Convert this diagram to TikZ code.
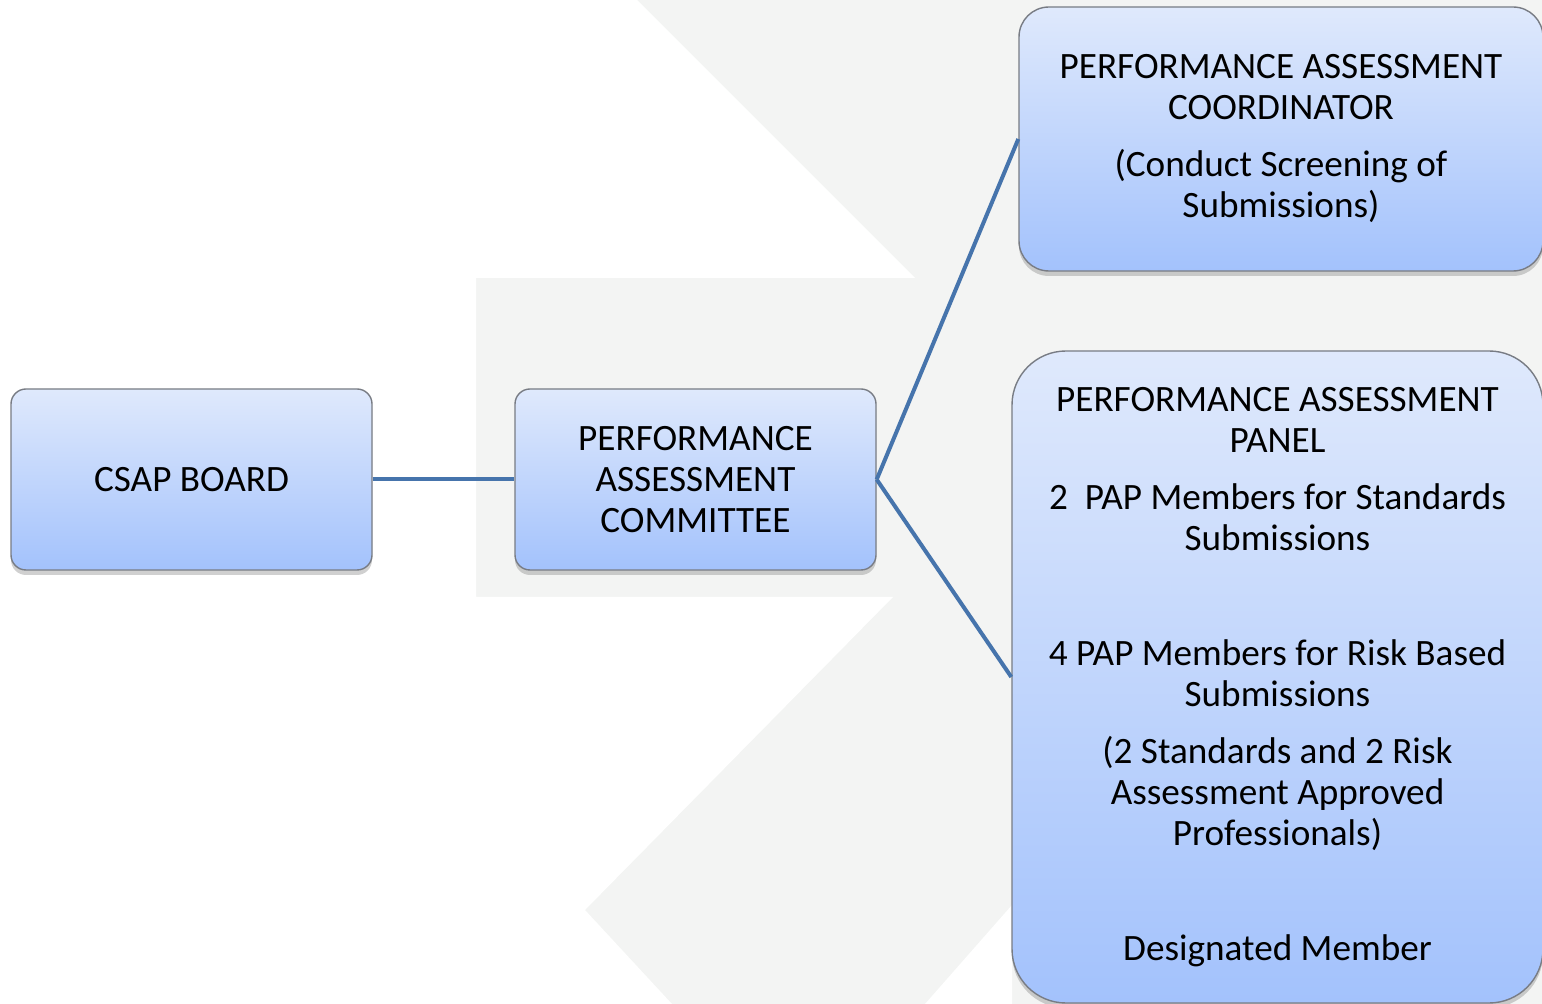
\documentclass[tikz,border=0pt]{standalone}
\usepackage{fontspec}
\setmainfont{Carlito}
\usetikzlibrary{positioning, shadows}

\definecolor{bggray}{RGB}{243,244,243}
\definecolor{boxtop}{RGB}{223,233,252}
\definecolor{boxbottom}{RGB}{163,194,252}
\definecolor{boxline}{RGB}{120,124,132}
\definecolor{linkblue}{RGB}{70,116,172}

\begin{document}
\begin{tikzpicture}[x=0.5pt, y=-0.5pt,
    box/.style={draw=boxline, line width=0.7pt, top color=boxtop, bottom color=boxbottom,
        align=center, inner sep=0pt, font=\fontsize{18.6}{20.5}\selectfont,
        drop shadow={shadow xshift=0pt, shadow yshift=-2.5pt, opacity=0.3, fill=black!60}},
    link/.style={draw=linkblue, line width=2pt}
]

% Page and background logo shape
\useasboundingbox (0,0) rectangle (1542,1004);
\fill[bggray] (0,0) rectangle (1542,1004);
\fill[white] (0,0) -- (637,0) -- (915,278) -- (476,278) -- (476,597) -- (893,597)
    -- (585,910) -- (672,1004) -- (0,1004) -- cycle;
\fill[white] (925,1004) -- (1012,905) -- (1012,1004) -- cycle;

% Left side - board and committee
\node[box, rounded corners=7.5pt, minimum width=180.5pt, minimum height=90.5pt] (board) at (191.5,479.5) {CSAP BOARD};
\node[box, rounded corners=7.5pt, minimum width=180.5pt, minimum height=90.5pt] (committee) at (695.5,479.5) {PERFORMANCE\\ASSESSMENT\\COMMITTEE};

% Right side - coordinator and panel
\node[box, rounded corners=15pt, minimum width=262pt, minimum height=132pt] (coordinator) at (1281,139)
    {PERFORMANCE ASSESSMENT\\COORDINATOR\\[8pt](Conduct Screening of\\Submissions)};
\node[box, rounded corners=27pt, minimum width=265.5pt, minimum height=326pt] (panel) at (1277.5,677)
    {PERFORMANCE ASSESSMENT\\PANEL\\[8pt]2~ PAP Members for Standards\\Submissions\\[37pt]
     4 PAP Members for Risk Based\\Submissions\\[8pt](2 Standards and 2 Risk\\Assessment Approved\\Professionals)\\[37pt]
     Designated Member};

% Connectors
\draw[link] (board.east) -- (committee.west);
\draw[link] (committee.east) -- (coordinator.west);
\draw[link] (committee.east) -- (panel.west);

\end{tikzpicture}
\end{document}
